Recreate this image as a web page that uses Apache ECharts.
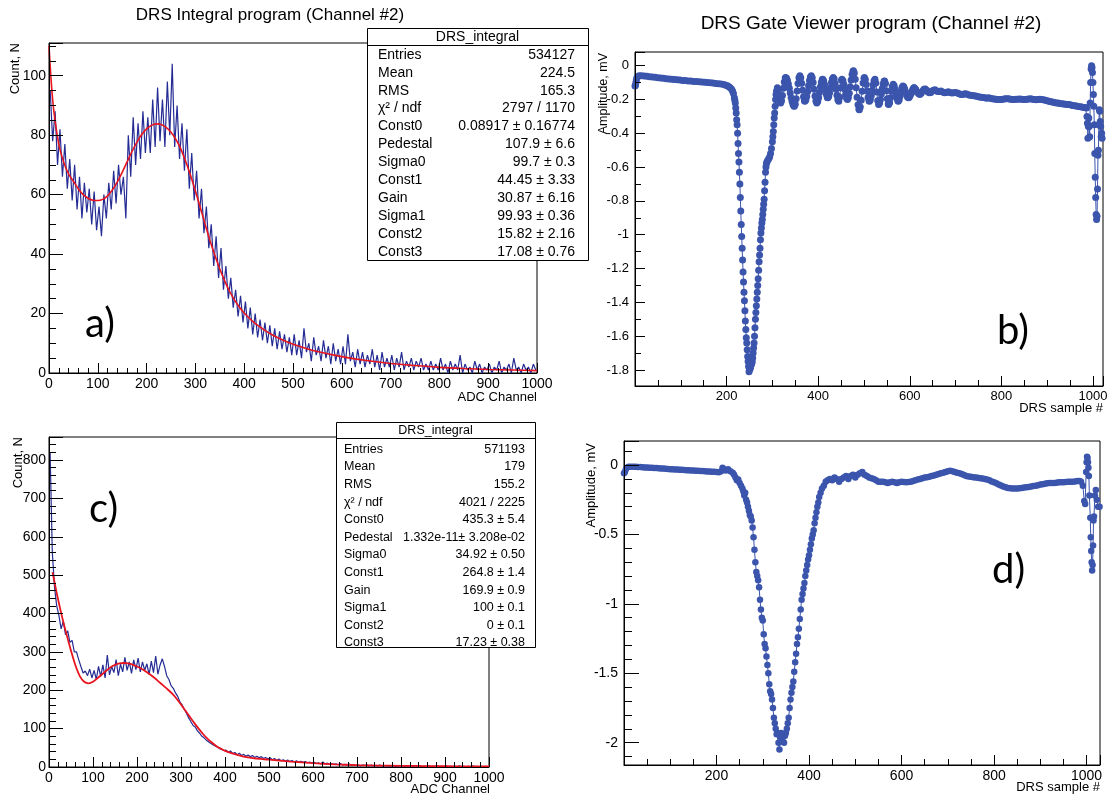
<!DOCTYPE html>
<html><head><meta charset="utf-8">
<script src="https://cdn.jsdelivr.net/npm/echarts@6/dist/echarts.min.js"></script>
<style>html,body{margin:0;padding:0;background:#fff}#c{width:1107px;height:798px}</style>
</head><body><div id="c"></div>
<script>
// ---------- DATA ----------
const binWidth = 5; // ADC channels per bin (histograms a and c)
const histA = [
 95,78,88,70,82,66,77,62,72,58,70,55,66,52,64,54,62,50,61,48,
 56,46,60,52,64,55,68,57,70,60,66,52,80,66,86,70,84,72,88,74,
 86,74,92,76,96,78,92,76,98,80,104,76,90,72,84,68,82,62,74,58,
 68,52,62,47,56,42,50,36,46,32,42,28,36,25,32,22,28,19,26,17,
 24,15,22,13,20,12,18,11,17,10,16,9,15,8,14,8,13,7,12,6,
 13,6,11,5,15,7,10,4,12,6,9,4,11,5,9,3,10,4,8,3,
 9,3,13,4,7,2,8,3,7,2,6,3,8,2,6,1,7,2,5,2,
 6,1,5,2,7,1,4,2,5,1,4,2,5,1,3,1,4,1,3,1,
 5,1,3,0,4,1,3,1,6,0,3,1,2,0,4,1,3,0,2,1,
 3,0,2,1,4,0,2,1,3,0,5,1,2,0,3,1,2,0,3,1
];
const fitAX = [0,5,10,20,30,40,50,60,70,80,90,100,110,120,130,140,150,160,170,180,190,200,210,220,230,240,250,260,270,280,290,300,310,320,330,340,350,360,370,380,390,400,420,440,460,480,500,550,600,650,700,750,800,850,900,950,1000];
const fitAY = [110,97,88,77,71,67,64.5,62,60,58.8,58.1,58,58.4,59.6,61.6,64.3,67.5,71,74.5,77.6,80.2,82.1,83.3,83.8,83.6,82.6,81,78.6,75.4,71.2,66.5,61.2,55.7,50,44.5,39.5,35,31,27.5,24.6,22.2,20.2,17,14.6,12.6,11,9.7,7.2,5.5,4.2,3.2,2.5,1.9,1.5,1.2,1,0.8];

const histC = [
 820,560,470,420,395,360,380,345,355,325,330,300,300,280,262,245,250,238,255,232,
 252,228,262,236,266,232,292,240,262,246,280,238,268,248,286,252,274,244,279,254,
 284,248,274,252,269,241,276,246,289,242,266,282,262,238,228,212,205,193,184,170,
 162,150,140,128,118,108,104,94,88,80,76,70,66,62,58,55,52,48,46,43,
 44,38,42,35,38,32,36,30,33,28,31,27,30,25,28,24,27,22,25,21,
 24,19,22,17,21,16,19,15,18,14,17,13,16,12,15,12,14,11,13,10,
 12,9,11,8,13,8,10,7,9,7,8,6,9,5,7,5,8,4,6,4,
 6,3,5,4,6,3,5,2,4,3,5,2,4,2,3,2,4,1,3,2,
 4,2,3,1,3,2,4,1,3,1,2,1,3,1,2,1,3,1,2,1,
 3,1,2,1,2,1,3,1,2,0,2,1,3,1,2,0,2,1,2,1
];
const fitCX = [8,20,30,40,50,60,70,80,90,100,110,120,130,140,150,160,170,180,190,200,210,220,230,240,250,260,270,280,290,300,310,320,330,340,350,360,370,380,390,400,420,440,460,480,500,550,600,650,700,750,800,850,900,950,1000];
const fitCY = [508,440,390,345,303,265,237,222,218,222,231,241,251,260,266,270,271,270,267,262,256,249,241,232,222,212,202,191,178,163,147,131,115,100,86,74,64,55,48,42,34,28,24,21,19,14,10,7,5,3.8,3,2.4,2,1.6,1.3];

// [DRS sample, amplitude mV]
const waveB = [
[0,-0.12],[1,-0.115],[2,-0.10],[3,-0.085],[4,-0.072],[6,-0.064],[9,-0.06],[14,-0.06],[20,-0.061],[26,-0.063],[32,-0.065],[38,-0.067],[44,-0.069],[50,-0.071],[56,-0.073],[62,-0.075],[68,-0.077],[74,-0.078],[80,-0.08],[86,-0.082],[92,-0.083],[98,-0.085],[104,-0.087],[110,-0.088],[116,-0.09],[122,-0.091],[128,-0.093],[134,-0.094],[140,-0.095],[146,-0.097],[152,-0.098],[158,-0.1],[164,-0.101],[170,-0.103],[176,-0.105],[182,-0.107],[188,-0.109],[194,-0.112],[198,-0.115],[202,-0.119],[205,-0.124],[208,-0.13],[211,-0.14],[213,-0.15],[215,-0.165],[217,-0.19],[218,-0.205],[219,-0.22],[220,-0.25],[221,-0.28],[222,-0.32],[223,-0.35],[224,-0.40],[225,-0.46],[226,-0.52],[227,-0.57],[228,-0.63],[229,-0.70],[230,-0.78],[231,-0.86],[232,-0.94],[233,-1.01],[234,-1.08],[235,-1.15],[236,-1.22],[237,-1.28],[238,-1.34],[239,-1.39],[240,-1.45],[241,-1.51],[242,-1.56],[243,-1.61],[244,-1.64],[245,-1.68],[246,-1.72],[247,-1.75],[248,-1.78],[249,-1.81],[250,-1.80],[251,-1.78],[252,-1.79],[253,-1.77],[254,-1.77],[255,-1.76],[256,-1.75],[257,-1.73],[258,-1.70],[259,-1.67],[260,-1.64],[261,-1.60],[262,-1.55],[263,-1.50],[264,-1.46],[265,-1.42],[266,-1.38],[267,-1.34],[268,-1.30],[269,-1.26],[270,-1.21],[271,-1.16],[272,-1.12],[273,-1.08],[274,-1.03],[275,-0.99],[276,-0.96],[277,-0.93],[278,-0.91],[279,-0.88],[280,-0.85],[281,-0.82],[282,-0.79],[283,-0.74],[284,-0.69],[285,-0.63],[286,-0.60],[287,-0.58],[288,-0.57],[290,-0.56],[292,-0.55],[294,-0.54],[296,-0.52],[298,-0.49],[300,-0.45],[301,-0.42],[302,-0.39],[303,-0.35],[304,-0.31],[305,-0.28],[306,-0.24],[307,-0.20],[308,-0.17],[309,-0.15],[311,-0.13],
[313,-0.147],[315,-0.185],[317,-0.216],[318,-0.22],[320,-0.208],[322,-0.176],[324,-0.134],[326,-0.096],[328,-0.073],[329,-0.07],[331,-0.075],[333,-0.088],[335,-0.108],[337,-0.134],[339,-0.162],[341,-0.189],[343,-0.212],[345,-0.23],[347,-0.239],[348,-0.24],[350,-0.228],[352,-0.195],[354,-0.15],[356,-0.105],[358,-0.072],[360,-0.06],[362,-0.072],[364,-0.104],[366,-0.146],[368,-0.184],[370,-0.207],[371,-0.21],[373,-0.2025],[375,-0.182],[377,-0.152],[379,-0.118],[381,-0.088],[383,-0.0675],[385,-0.06],[387,-0.071],[389,-0.10],[391,-0.14],[393,-0.18],[395,-0.209],[397,-0.22],[399,-0.212],[401,-0.19],[403,-0.158],[405,-0.125],[407,-0.098],[409,-0.082],[410,-0.08],[412,-0.089],[414,-0.112],[416,-0.143],[418,-0.171],[420,-0.188],[421,-0.19],[423,-0.182],[425,-0.16],[427,-0.13],[429,-0.10],[431,-0.078],[433,-0.07],[435,-0.079],[437,-0.105],[439,-0.14],[441,-0.175],[443,-0.201],[445,-0.21],[447,-0.186],[449,-0.131],[451,-0.0865],[452,-0.08],[454,-0.088],[456,-0.11],[458,-0.14],[460,-0.17],[462,-0.192],[464,-0.20],[466,-0.19],[468,-0.163],[470,-0.125],[472,-0.085],[474,-0.052],[476,-0.0325],[477,-0.03],[479,-0.043],[481,-0.08],[483,-0.131],[485,-0.186],[487,-0.231],[489,-0.257],[490,-0.26],[492,-0.245],[494,-0.204],[496,-0.151],[498,-0.103],[500,-0.074],[501,-0.07],[503,-0.081],[505,-0.111],[507,-0.15],[509,-0.186],[511,-0.207],[512,-0.21],[514,-0.201],[516,-0.1775],[518,-0.145],[520,-0.1125],[522,-0.089],[524,-0.08],[526,-0.102],[528,-0.155],[530,-0.208],[532,-0.23],[534,-0.222],[536,-0.20],[538,-0.168],[540,-0.135],[542,-0.108],[544,-0.092],[545,-0.09],[547,-0.106],[549,-0.148],[551,-0.195],[553,-0.226],[554,-0.23],[556,-0.219],[558,-0.189],[560,-0.151],[562,-0.121],[564,-0.11],[566,-0.118],[568,-0.139],[570,-0.167],[572,-0.193],[574,-0.208],[575,-0.21],[577,-0.201],[579,-0.179],[581,-0.151],[583,-0.1285],[585,-0.12],[587,-0.125],[589,-0.1375],[591,-0.155],[593,-0.1725],[595,-0.185],[597,-0.19],[599,-0.1865],[601,-0.177],[603,-0.164],[605,-0.149],[607,-0.138],[609,-0.131],[610,-0.13],[613,-0.14],[616,-0.155],[619,-0.165],[622,-0.17],[625,-0.163],[628,-0.15],[631,-0.14],[634,-0.138],[637,-0.145],[640,-0.155],[643,-0.16],[646,-0.158],[649,-0.15],[652,-0.145],[655,-0.142],[658,-0.148],[661,-0.153],[664,-0.152],
[668,-0.15],[672,-0.155],[676,-0.16],[680,-0.158],[684,-0.154],[688,-0.158],[692,-0.162],[696,-0.16],[700,-0.158],[704,-0.162],[708,-0.166],[712,-0.17],[716,-0.17],[720,-0.166],[724,-0.168],[728,-0.172],[732,-0.175],[736,-0.176],[740,-0.178],[744,-0.18],[748,-0.182],[752,-0.185],[756,-0.187],[760,-0.188],[764,-0.19],[768,-0.192],[772,-0.19],[776,-0.192],[780,-0.195],[784,-0.197],[788,-0.198],[792,-0.2],[796,-0.2],[800,-0.2],[804,-0.198],[808,-0.196],[812,-0.195],[816,-0.196],[820,-0.198],[824,-0.2],[828,-0.2],[832,-0.199],[836,-0.198],[840,-0.197],[844,-0.199],[848,-0.2],[852,-0.2],[856,-0.199],[860,-0.197],[864,-0.196],[868,-0.198],[872,-0.2],[876,-0.202],[880,-0.2],[884,-0.198],[888,-0.2],[892,-0.202],[896,-0.205],[900,-0.207],[904,-0.21],[908,-0.213],[912,-0.215],[916,-0.218],[920,-0.22],[924,-0.221],[928,-0.223],[932,-0.225],[936,-0.226],[940,-0.228],[944,-0.229],[948,-0.23],[952,-0.233],[956,-0.235],[960,-0.237],[964,-0.239],[968,-0.241],[972,-0.243],[976,-0.245],[980,-0.247],[983,-0.248],
[986,-0.25],[987,-0.30],[988,-0.34],[989,-0.43],[990,-0.36],[991,-0.31],[992,-0.36],[993,-0.42],[994,-0.22],[995,-0.10],[996,-0.02],[997,0.00],[998,-0.01],[999,-0.04],[1000,-0.10],[1001,-0.17],[1002,-0.24],[1003,-0.35],[1004,-0.52],[1005,-0.66],[1006,-0.78],[1007,-0.88],[1008,-0.91],[1009,-0.89],[1010,-0.73],[1011,-0.53],[1012,-0.50],[1013,-0.35],[1014,-0.26],[1015,-0.27],[1016,-0.33],[1017,-0.36],[1018,-0.42],[1019,-0.40],[1020,-0.43]
];

const waveD = [
[0,-0.06],[2,-0.05],[4,-0.03],[6,-0.02],[10,-0.012],[15,-0.012],[20,-0.012],[25,-0.013],[30,-0.014],[35,-0.015],[40,-0.016],[45,-0.017],[50,-0.018],[55,-0.019],[60,-0.02],[65,-0.021],[70,-0.022],[75,-0.024],[80,-0.025],[85,-0.026],[90,-0.027],[95,-0.028],[100,-0.03],[105,-0.031],[110,-0.032],[115,-0.033],[120,-0.034],[125,-0.035],[130,-0.036],[135,-0.037],[140,-0.038],[145,-0.039],[150,-0.04],[155,-0.041],[160,-0.042],[165,-0.043],[170,-0.044],[175,-0.045],[180,-0.046],[185,-0.047],[190,-0.048],[195,-0.049],[200,-0.05],[205,-0.052],[210,-0.045],[213,-0.02],[216,-0.03],[220,-0.04],[225,-0.03],[230,-0.045],[235,-0.055],[238,-0.07],[241,-0.09],[244,-0.11],[247,-0.105],[250,-0.13],[253,-0.15],[256,-0.17],[258,-0.19],[260,-0.22],[262,-0.20],[264,-0.25],[266,-0.27],[268,-0.30],[270,-0.33],[272,-0.36],[274,-0.37],[276,-0.40],[278,-0.45],[280,-0.52],[282,-0.61],[284,-0.70],[286,-0.77],[288,-0.80],[290,-0.83],[292,-0.88],[294,-0.97],[296,-1.04],[298,-1.10],[300,-1.12],[302,-1.22],[304,-1.29],[306,-1.32],[308,-1.38],[310,-1.44],[312,-1.50],[314,-1.58],[316,-1.63],[318,-1.65],[320,-1.69],[322,-1.75],[324,-1.82],[326,-1.86],[328,-1.90],[330,-1.94],[332,-1.93],[334,-2.00],[336,-2.05],[338,-1.96],[340,-1.93],[342,-1.99],[344,-1.96],[346,-2.00],[348,-1.95],[350,-1.93],[352,-1.90],[354,-1.86],[356,-1.82],[358,-1.75],[360,-1.69],[362,-1.64],[364,-1.60],[366,-1.56],[368,-1.49],[370,-1.42],[372,-1.36],[374,-1.29],[376,-1.24],[378,-1.18],[380,-1.11],[382,-1.04],[384,-0.97],[386,-0.93],[388,-0.89],[390,-0.85],[392,-0.80],[394,-0.76],[396,-0.72],[398,-0.68],[400,-0.65],[402,-0.61],[404,-0.57],[406,-0.53],[408,-0.50],[410,-0.47],[412,-0.42],[414,-0.38],[416,-0.34],[418,-0.30],[420,-0.27],[422,-0.23],[425,-0.20],[428,-0.17],[432,-0.15],[436,-0.12],[440,-0.11],[445,-0.10],[450,-0.11],[455,-0.09],[460,-0.10],[465,-0.12],[470,-0.10],[475,-0.09],[480,-0.08],[485,-0.10],[490,-0.08],[495,-0.07],[500,-0.09],[505,-0.07],[510,-0.06],[515,-0.05],[520,-0.07],[525,-0.08],[530,-0.09],[535,-0.095],[540,-0.10],[545,-0.11],[550,-0.12],[555,-0.12],[560,-0.12],[565,-0.125],[570,-0.13],[575,-0.125],[580,-0.12],[585,-0.125],[590,-0.13],[595,-0.125],[600,-0.12],[605,-0.122],[610,-0.125],[615,-0.122],[620,-0.12],[625,-0.115],[630,-0.11],[635,-0.105],[640,-0.10],[645,-0.095],[650,-0.09],[655,-0.088],[660,-0.085],[665,-0.08],[670,-0.075],[675,-0.07],[680,-0.065],[685,-0.06],[690,-0.055],[695,-0.05],[700,-0.045],[705,-0.042],[710,-0.045],[715,-0.05],[720,-0.055],[725,-0.06],[730,-0.065],[735,-0.072],[740,-0.08],[745,-0.082],[750,-0.085],[755,-0.088],[760,-0.09],[765,-0.092],[770,-0.095],[775,-0.098],[780,-0.10],[785,-0.105],[790,-0.11],[795,-0.118],[800,-0.125],[805,-0.132],[810,-0.14],[815,-0.148],[820,-0.155],[825,-0.16],[830,-0.165],[835,-0.168],[840,-0.17],[845,-0.17],[850,-0.17],[855,-0.168],[860,-0.165],[865,-0.162],[870,-0.16],[875,-0.158],[880,-0.155],[885,-0.152],[890,-0.15],[895,-0.145],[900,-0.14],[905,-0.138],[910,-0.135],[915,-0.132],[920,-0.13],[925,-0.13],[930,-0.13],[935,-0.128],[940,-0.125],[945,-0.125],[950,-0.125],[955,-0.122],[960,-0.12],[965,-0.12],[970,-0.12],[975,-0.118],[980,-0.115],[985,-0.116],[988,-0.12],[992,-0.15],[995,-0.26],[997,-0.28],[999,-0.05],[1000,0.02],[1001,0.06],[1002,0.05],[1003,0.02],[1004,-0.02],[1005,-0.08],[1006,-0.22],[1008,-0.38],[1009,-0.52],[1010,-0.62],[1011,-0.70],[1012,-0.76],[1013,-0.72],[1014,-0.58],[1015,-0.40],[1016,-0.37],[1018,-0.22],[1020,-0.18],[1022,-0.25],[1025,-0.30],[1028,-0.30]
];

const statLabels = ['Entries','Mean','RMS','χ² / ndf','Const0','Pedestal','Sigma0','Const1','Gain','Sigma1','Const2','Const3'];
const statValuesA = ['534127','224.5','165.3','2797 / 1170','0.08917 ± 0.16774','107.9 ± 6.6','99.7 ± 0.3','44.45 ± 3.33','30.87 ± 6.16','99.93 ± 0.36','15.82 ± 2.16','17.08 ± 0.76'];
const statValuesC = ['571193','179','155.2','4021 / 2225','435.3 ± 5.4','1.332e-11± 3.208e-02','34.92 ± 0.50','264.8 ± 1.4','169.9 ± 0.9','100 ± 0.1','0 ± 0.1','17.23 ± 0.38'];
const statTitle = 'DRS_integral';

// ---------- CHART ----------
const FONT = '"Liberation Sans", Arial, Helvetica, sans-serif';
const HIST_COLOR = '#252c94';
const FIT_COLOR = '#e8141e';
const WAVE_COLOR = '#3b55ad';

function axis(o) {
  const a = {
    type: 'value', gridIndex: o.grid, min: o.min, max: o.max, z: 6,
    axisLine: { show: true, onZero: false, lineStyle: { color: '#000', width: 1 } },
    axisTick: { show: true, inside: true, length: o.tick, lineStyle: { color: '#000', width: 1 } },
    minorTick: { show: true, splitNumber: o.minor, length: o.minorLen, lineStyle: { color: '#000', width: 1 } },
    splitLine: { show: false }, minorSplitLine: { show: false },
    axisLabel: { fontSize: o.fs, fontFamily: FONT, color: '#000', margin: o.margin,
      showMinLabel: o.showMin !== false, showMaxLabel: o.showMax !== false,
      formatter: (v) => String(+(+v).toFixed(6)) }
  };
  if (o.interval != null) a.interval = o.interval;
  if (o.split != null) a.splitNumber = o.split;
  return a;
}

const histSeries = (arr) => arr.map((v, i) => [i * binWidth + binWidth / 2, v]);
const zip = (xs, ys) => xs.map((x, i) => [x, ys[i]]);

function statBox(x, y, w, h, headH, row0, step, padL, padR, fs, values) {
  const els = [
    { type: 'rect', z: 100, shape: { x: x + 0.5, y: y + 0.5, width: w, height: h }, style: { fill: '#fff', stroke: '#000', lineWidth: 1 } },
    { type: 'line', z: 101, shape: { x1: x + 0.5, y1: y + headH + 0.5, x2: x + w + 0.5, y2: y + headH + 0.5 }, style: { stroke: '#000', lineWidth: 1 } },
    { type: 'text', z: 101, x: x + w / 2, y: y + headH / 2 + 1, style: { text: statTitle, fontSize: fs, fontFamily: FONT, fill: '#000', align: 'center', verticalAlign: 'middle' } }
  ];
  statLabels.forEach((lab, i) => {
    els.push({ type: 'text', z: 101, x: x + padL, y: row0 + i * step, style: { text: lab, fontSize: fs, fontFamily: FONT, fill: '#000', align: 'left', verticalAlign: 'middle' } });
    els.push({ type: 'text', z: 101, x: x + w - padR, y: row0 + i * step, style: { text: values[i], fontSize: fs, fontFamily: FONT, fill: '#000', align: 'right', verticalAlign: 'middle' } });
  });
  return els;
}

function txt(x, y, text, fs, align, rot, family) {
  const e = { type: 'text', z: 50, x, y, style: { text, fontSize: fs, fontFamily: family || FONT, fill: '#000', align: align || 'center', verticalAlign: 'middle' } };
  if (rot) e.rotation = rot;
  return e;
}

const LETTER_FONT = 'Lato, "Open Sans", sans-serif';
const graphics = [].concat(
  [
    txt(270, 15, 'DRS Integral program (Channel #2)', 17),
    txt(871, 24, 'DRS Gate Viewer program (Channel #2)', 19),
    txt(15, 43, 'Count, N', 13, 'right', Math.PI / 2),
    txt(18, 437, 'Count, N', 13, 'right', Math.PI / 2),
    txt(604, 53, 'Amplitude, mV', 12.5, 'right', Math.PI / 2),
    txt(591, 443, 'Amplitude, mV', 13, 'right', Math.PI / 2),
    txt(537, 397, 'ADC Channel', 13, 'right'),
    txt(490, 789, 'ADC Channel', 13, 'right'),
    txt(1103, 408, 'DRS sample #', 13, 'right'),
    txt(1100, 787, 'DRS sample #', 13, 'right'),
    txt(85, 324, 'a)', 40, 'left', 0, LETTER_FONT),
    txt(997, 331, 'b)', 40, 'left', 0, LETTER_FONT),
    txt(89, 509, 'c)', 40, 'left', 0, LETTER_FONT),
    txt(992, 570, 'd)', 40, 'left', 0, LETTER_FONT)
  ],
  statBox(367, 28, 221, 232, 17, 55, 17.88, 11, 13, 14, statValuesA),
  statBox(336, 422, 199, 225, 16, 449.3, 17.6, 8, 10, 12.5, statValuesC)
);

const gridBase = { show: true, backgroundColor: 'transparent', borderColor: '#000', borderWidth: 1, outerBoundsMode: 'none', containLabel: false, z: 0 };
const option = {
  animation: false,
  backgroundColor: '#fff',
  grid: [
    Object.assign({ left: 49, top: 43, width: 488, height: 330 }, gridBase),
    Object.assign({ left: 635, top: 52, width: 468, height: 334 }, gridBase),
    Object.assign({ left: 49, top: 437, width: 440, height: 330 }, gridBase),
    Object.assign({ left: 624, top: 441, width: 476, height: 324 }, gridBase)
  ],
  xAxis: [
    axis({ grid: 0, min: 0, max: 1000, interval: 100, minor: 5, tick: 10, minorLen: 5, fs: 14, margin: 4 }),
    axis({ grid: 1, min: 0, max: 1022, interval: 200, minor: 4, tick: 10, minorLen: 6, fs: 13, margin: 4, showMin: false, showMax: false }),
    axis({ grid: 2, min: 0, max: 1000, interval: 100, minor: 5, tick: 10, minorLen: 5, fs: 14, margin: 4 }),
    axis({ grid: 3, min: 0, max: 1029, interval: 200, minor: 4, tick: 10, minorLen: 6, fs: 14, margin: 4, showMin: false, showMax: false })
  ],
  yAxis: [
    axis({ grid: 0, min: 0, max: 111, interval: 20, minor: 4, tick: 14, minorLen: 7, fs: 14, margin: 3, showMax: false }),
    axis({ grid: 1, min: -1.895, max: 0.081, split: 10, minor: 2, tick: 10, minorLen: 6, fs: 13, margin: 6, showMin: false, showMax: false }),
    axis({ grid: 2, min: 0, max: 860, interval: 100, minor: 5, tick: 14, minorLen: 7, fs: 14, margin: 3, showMax: false }),
    axis({ grid: 3, min: -2.161, max: 0.173, split: 5, minor: 5, tick: 15, minorLen: 8, fs: 14, margin: 6, showMin: false, showMax: false })
  ],
  graphic: graphics,
  series: [
    { type: 'line', xAxisIndex: 0, yAxisIndex: 0, data: histSeries(histA), showSymbol: false, lineStyle: { color: HIST_COLOR, width: 1.2 }, z: 2 },
    { type: 'line', xAxisIndex: 0, yAxisIndex: 0, data: zip(fitAX, fitAY), showSymbol: false, smooth: 0.3, lineStyle: { color: FIT_COLOR, width: 1.6 }, z: 3 },
    { type: 'line', xAxisIndex: 2, yAxisIndex: 2, data: histSeries(histC), showSymbol: false, lineStyle: { color: HIST_COLOR, width: 1.2 }, z: 2 },
    { type: 'line', xAxisIndex: 2, yAxisIndex: 2, data: zip(fitCX, fitCY), showSymbol: false, smooth: 0.3, lineStyle: { color: FIT_COLOR, width: 1.8 }, z: 3 },
    { type: 'line', xAxisIndex: 1, yAxisIndex: 1, data: waveB, symbol: 'circle', symbolSize: 7, showSymbol: true, showAllSymbol: true, itemStyle: { color: WAVE_COLOR }, lineStyle: { color: WAVE_COLOR, width: 1 }, z: 2 },
    { type: 'line', xAxisIndex: 3, yAxisIndex: 3, data: waveD, symbol: 'circle', symbolSize: 6.5, showSymbol: true, showAllSymbol: true, itemStyle: { color: WAVE_COLOR }, lineStyle: { color: WAVE_COLOR, width: 1 }, z: 2 }
  ]
};

const chart = echarts.init(document.getElementById('c'), null, { renderer: 'canvas' });
chart.setOption(option);
</script></body></html>
